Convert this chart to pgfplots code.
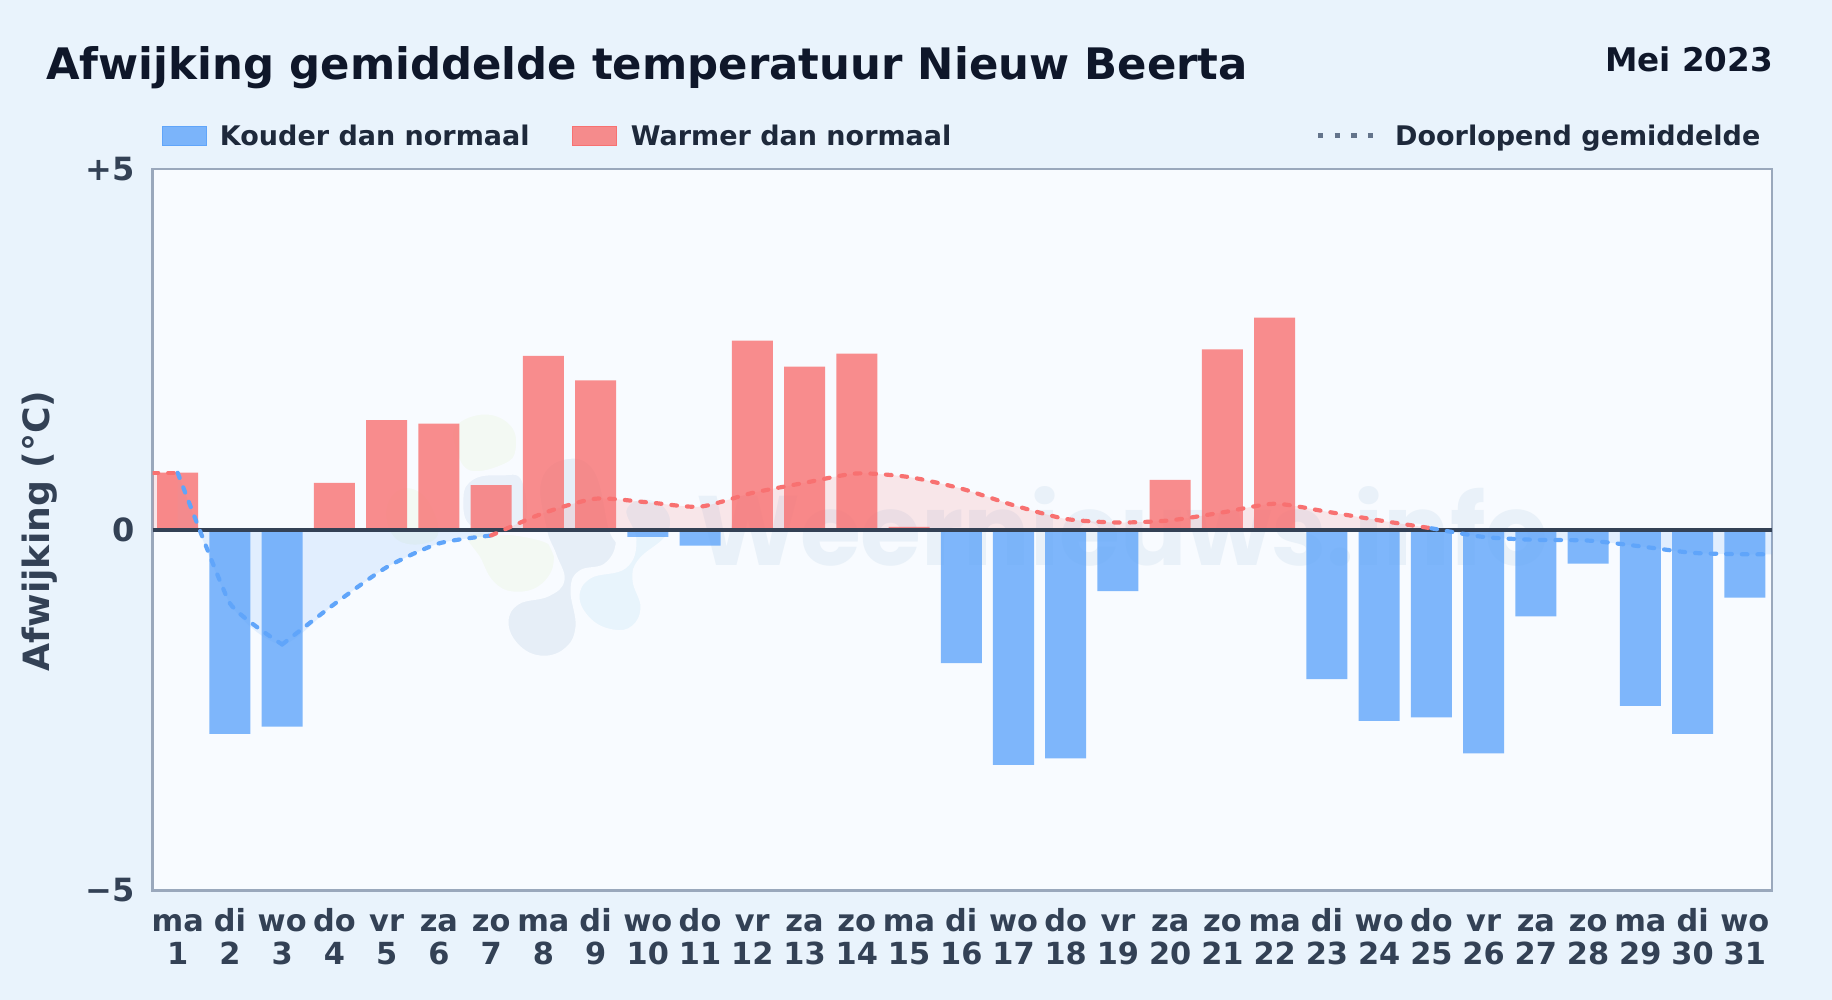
\documentclass[border=0pt]{standalone}
\usepackage{fontspec}
\setmainfont{DejaVu Sans}
\newfontfamily\wmfont{Poppins}
\usepackage{pgfplots}
\pgfplotsset{compat=1.18}

\definecolor{pagebg}{HTML}{E9F3FC}
\definecolor{plotbg}{HTML}{F8FBFF}
\definecolor{frame}{HTML}{9AA8BC}
\definecolor{coldc}{HTML}{60A5FA}
\definecolor{warmc}{HTML}{F87171}
\definecolor{titlec}{HTML}{0F172A}
\definecolor{legc}{HTML}{1E293B}
\definecolor{tickc}{HTML}{334155}
\definecolor{dotc}{HTML}{64748B}
\definecolor{wmtext}{HTML}{E9F1F9}
\definecolor{wmgrey}{HTML}{E6EEF7}
\definecolor{wmblue}{HTML}{E9F0F9}
\definecolor{wmsky}{HTML}{E8F4FC}
\definecolor{wmgreen}{HTML}{F3F9F3}

\pgfplotsset{
  runline/.style={line width=2.1pt, line cap=round, dash pattern=on 2.8pt off 5pt, smooth, tension=0.42, forget plot},
  runfill/.style={draw=none, fill opacity=0.15, smooth, tension=0.42, forget plot},
}
\tikzset{
  blob/.style={draw=plotbg, line width=1.5pt, smooth cycle, tension=0.7},
}
% day label: same height for every first line
\newcommand\dl[2]{\rule{0pt}{12pt}#1\\#2}

\begin{document}
\begin{tikzpicture}
\useasboundingbox (0,0) rectangle (916pt,500pt);
\fill[pagebg] (0,0) rectangle (916pt,500pt);
\fill[plotbg] (76.3pt,54.75pt) rectangle (886pt,415.5pt);

% watermark, in pixels of the reference
\begin{scope}[x=0.5pt, y=-0.5pt, yshift=500pt]
  \draw[blob, fill=wmgreen] plot coordinates {(385,510) (400,488) (425,495) (440,530) (425,545) (395,540)};
  \draw[blob, fill=wmgreen] plot coordinates {(455,425) (485,413) (512,425) (517,450) (505,465) (470,472) (455,450)};
  \draw[blob, fill=wmgreen] plot coordinates {(470,533) (543,540) (555,563) (540,587) (513,593) (493,583) (480,560)};
  \draw[blob, fill=wmgrey] plot coordinates {(507,622) (518,603) (548,595) (563,580) (555,555) (545,528) (540,480) (565,458) (595,470) (610,528) (617,545) (605,565) (580,572) (572,590) (577,627) (565,650) (540,657) (517,645)};
  \draw[blob, fill=wmsky] plot coordinates {(578,597) (590,577) (625,567) (635,540) (625,510) (645,498) (668,510) (668,535) (640,560) (634,580) (642,607) (633,627) (613,631) (590,620)};
  \draw[blob, fill=wmblue] plot coordinates {(462,497) (473,478) (500,474) (523,480) (523,528) (472,528)};
  \node[anchor=base west, inner sep=0pt, text=wmtext] at (696,566) {\wmfont\bfseries\fontsize{49.3pt}{49.3pt}\selectfont Weernieuws.info};
\end{scope}

\begin{axis}[
    at={(76.3pt,54.75pt)}, anchor=south west,
    scale only axis,
    width=809.7pt, height=360.75pt,
    xmin=0.52, xmax=31.52,
    ymin=-5, ymax=5,
    clip=true,
    bar width=0.785,
    xtick={1,...,31},
    xticklabels={{\dl{ma}{1}},{\dl{di}{2}},{\dl{wo}{3}},{\dl{do}{4}},{\dl{vr}{5}},{\dl{za}{6}},{\dl{zo}{7}},{\dl{ma}{8}},{\dl{di}{9}},{\dl{wo}{10}},{\dl{do}{11}},{\dl{vr}{12}},{\dl{za}{13}},{\dl{zo}{14}},{\dl{ma}{15}},{\dl{di}{16}},{\dl{wo}{17}},{\dl{do}{18}},{\dl{vr}{19}},{\dl{za}{20}},{\dl{zo}{21}},{\dl{ma}{22}},{\dl{di}{23}},{\dl{wo}{24}},{\dl{do}{25}},{\dl{vr}{26}},{\dl{za}{27}},{\dl{zo}{28}},{\dl{ma}{29}},{\dl{di}{30}},{\dl{wo}{31}}},
    ytick={-5,0,5},
    yticklabels={−5,0,+5},
    major tick length=0pt,
    axis line style={frame, line width=1.3pt},
    xticklabel style={align=center, text=tickc, font=\fontsize{15.2pt}{16.7pt}\selectfont\bfseries, yshift=-5pt},
    yticklabel style={text=tickc, font=\fontsize{16pt}{16pt}\selectfont\bfseries, xshift=-5.5pt},
    ylabel={Afwijking (°C)},
    every axis y label/.style={at={(axis description cs:-0.0697,0.4985)}, rotate=90, anchor=center},
    ylabel style={text=tickc, font=\fontsize{18.1pt}{18.1pt}\selectfont\bfseries},
    legend columns=6,
    legend style={
        at={(axis description cs:0.0059,1.0441)}, anchor=west,
        draw=none, fill=none, inner sep=0pt, outer sep=0pt,
        text=legc, font=\fontsize{13.5pt}{13.5pt}\selectfont\bfseries,
        nodes={inner sep=0pt},
        /tikz/column 1/.style={column sep=6.5pt},
        /tikz/column 2/.style={column sep=21.2pt},
        /tikz/column 3/.style={column sep=7pt},
        /tikz/column 4/.style={column sep=182.2pt},
        /tikz/column 5/.style={column sep=10pt},
    },
]

% legend
\addlegendimage{legend image code/.code={\fill[coldc, fill opacity=0.8] (0pt,-4.1pt) rectangle (22pt,5.4pt);}}
\addlegendentry{Kouder dan normaal}
\addlegendimage{legend image code/.code={\fill[warmc, fill opacity=0.8] (0pt,-4.1pt) rectangle (22pt,5.4pt);}}
\addlegendentry{Warmer dan normaal}
\addlegendimage{legend image code/.code={\draw[dotc, line width=2.2pt, dash pattern=on 2.7pt off 5.6pt] (0pt,0.75pt) -- (27.5pt,0.75pt);}}
\addlegendentry{Doorlopend gemiddelde}

% area between running mean and zero
\addplot[runfill, fill=warmc] coordinates {(0.52,0.79) (1,0.79)} \closedcycle;
\addplot[runfill, fill=coldc] coordinates {
    (1,0.79) (2,-1.02) (3,-1.59) (4,-1.03) (5,-0.52) (6,-0.19) (7,-0.08)} \closedcycle;
\addplot[runfill, fill=warmc] coordinates {
    (7,-0.08) (8,0.23) (9,0.43) (10,0.38) (11,0.32) (12,0.51) (13,0.65) (14,0.78) (15,0.73)
    (16,0.57) (17,0.34) (18,0.15) (19,0.10) (20,0.13) (21,0.24) (22,0.36) (23,0.25) (24,0.13) (25,0.02)} \closedcycle;
\addplot[runfill, fill=coldc] coordinates {
    (25,0.02) (26,-0.10) (27,-0.14) (28,-0.15) (29,-0.23) (30,-0.32) (31,-0.34) (31.52,-0.34)} \closedcycle;

% bars
\addplot[ybar, bar shift=0pt, draw=none, fill=coldc, fill opacity=0.8, forget plot] coordinates {
    (2,-2.83) (3,-2.73) (10,-0.10) (11,-0.22) (16,-1.85) (17,-3.26) (18,-3.17) (19,-0.85)
    (23,-2.07) (24,-2.65) (25,-2.60) (26,-3.10) (27,-1.20) (28,-0.47) (29,-2.44) (30,-2.83) (31,-0.94)};
\addplot[ybar, bar shift=0pt, draw=none, fill=warmc, fill opacity=0.8, forget plot] coordinates {
    (1,0.79) (4,0.65) (5,1.52) (6,1.47) (7,0.62) (8,2.41) (9,2.07) (12,2.62) (13,2.26) (14,2.44)
    (15,0.04) (20,0.69) (21,2.50) (22,2.94)};

% zero line
\addplot[tickc, line width=1.8pt, forget plot] coordinates {(0.52,0) (31.52,0)};

% running mean
\addplot[runline, warmc] coordinates {(0.52,0.79) (1,0.79)};
\addplot[runline, coldc, tension=0.25] coordinates {(1,0.79) (2,-1.02) (3,-1.59)};
\addplot[runline, coldc] coordinates {(3,-1.59) (4,-1.03) (5,-0.52) (6,-0.19) (7,-0.08)};
\addplot[runline, warmc] coordinates {
    (7,-0.08) (8,0.23) (9,0.43) (10,0.38) (11,0.32) (12,0.51) (13,0.65) (14,0.78) (15,0.73)
    (16,0.57) (17,0.34) (18,0.15) (19,0.10) (20,0.13) (21,0.24) (22,0.36) (23,0.25) (24,0.13) (25,0.02)};
\addplot[runline, coldc] coordinates {
    (25,0.02) (26,-0.10) (27,-0.14) (28,-0.15) (29,-0.23) (30,-0.32) (31,-0.34) (31.52,-0.34)};
\end{axis}

\node[anchor=base west, inner sep=0pt, text=titlec] at (23pt,460.1pt) {\fontsize{21.7pt}{21.7pt}\selectfont\bfseries Afwijking gemiddelde temperatuur Nieuw Beerta};
\node[anchor=base east, inner sep=0pt, text=titlec] at (886.7pt,464pt) {\fontsize{16.3pt}{16.3pt}\selectfont\bfseries Mei 2023};
\end{tikzpicture}
\end{document}
